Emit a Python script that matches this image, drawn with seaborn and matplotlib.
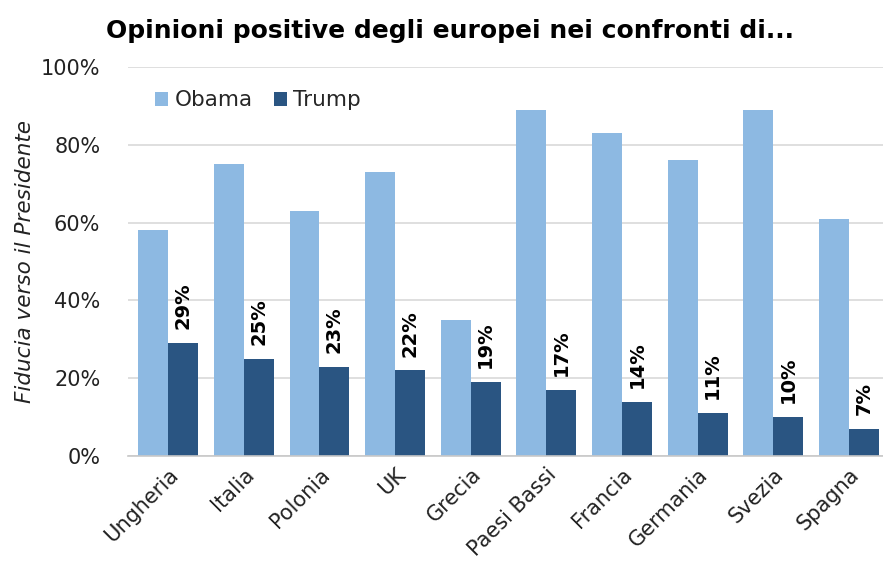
import matplotlib
matplotlib.use("Agg")
import matplotlib.pyplot as plt
import seaborn as sns
import pandas as pd
from matplotlib.ticker import FuncFormatter

countries = ["Ungheria", "Italia", "Polonia", "UK", "Grecia", "Paesi Bassi",
             "Francia", "Germania", "Svezia", "Spagna"]
obama = [58, 75, 63, 73, 35, 89, 83, 76, 89, 61]
trump = [29, 25, 23, 22, 19, 17, 14, 11, 10, 7]
series = ["Obama", "Trump"]
colors = ["#8DB9E2", "#2A5582"]

df = pd.DataFrame({
    "Paese": countries * 2,
    "Valore": obama + trump,
    "Presidente": [series[0]] * len(countries) + [series[1]] * len(countries),
})

sns.set_theme(style="white")
plt.rcParams["font.family"] = ["DejaVu Sans"]

fig = plt.figure(figsize=(8.83, 5.79), dpi=100)
ax = fig.add_axes([0.145, 0.2124, 0.855, 0.6719])

sns.barplot(data=df, x="Paese", y="Valore", hue="Presidente",
            palette=colors, width=0.79, saturation=1, ax=ax, gap=0,
            linewidth=0, edgecolor="none")

ax.set_ylim(0, 100)
ax.set_xlim(-0.53, 9.45)
ax.set_yticks([0, 20, 40, 60, 80, 100])
ax.yaxis.set_major_formatter(FuncFormatter(lambda v, p: f"{int(v)}%"))
ax.grid(axis="y", color="#D9D9D9", linewidth=1.2)
ax.set_axisbelow(True)
for s in ["top", "right", "left"]:
    ax.spines[s].set_visible(False)
ax.spines["bottom"].set_color("#C8C8C8")
ax.spines["bottom"].set_linewidth(1.2)
ax.tick_params(axis="y", length=0, labelsize=15, colors="#222222", pad=20)
ax.tick_params(axis="x", length=0, labelsize=15, colors="#222222", pad=6)
ax.set_xlabel("")
plt.setp(ax.get_xticklabels(), rotation=45, ha="right", rotation_mode="anchor")
ax.set_ylabel("Fiducia verso il Presidente", fontsize=15.5, style="italic",
              color="#222222", labelpad=4)

# labels above Trump bars
trump_container = ax.containers[1]
for bar, v in zip(trump_container, trump):
    ax.annotate(f"{v}%", (bar.get_x() + bar.get_width() / 2, bar.get_height()),
                xytext=(0, 10), textcoords="offset points", rotation=90,
                ha="center", va="bottom", fontsize=14, fontweight="bold",
                color="black")

leg = ax.legend(loc="upper left", bbox_to_anchor=(0.01, 0.99), frameon=False,
                fontsize=15.5, handlelength=0.6, handleheight=0.6,
                handletextpad=0.3, columnspacing=1.0, ncol=2)

fig.text(0.51, 0.947, "Opinioni positive degli europei nei confronti di...",
         ha="center", va="center", fontsize=18, fontweight="bold", color="black")

fig.savefig("out.png", dpi=100)
